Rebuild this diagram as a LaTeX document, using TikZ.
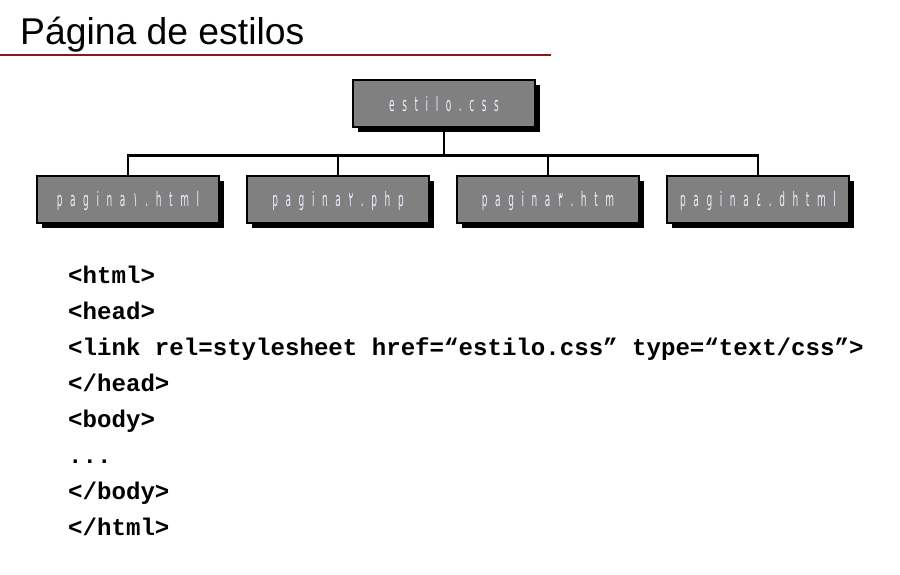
\documentclass[tikz,border=0pt]{standalone}
\usepackage{fontspec}
\setmainfont{Liberation Sans}
\newfontfamily\cajafont{DejaVu Sans}[FakeStretch=0.45,LetterSpace=38]
\newfontfamily\codigofont{Liberation Mono}
\usepackage{xcolor}
\usepackage{tikz}
\usetikzlibrary{shadows}

\definecolor{granate}{RGB}{128,30,30}
\definecolor{letracaja}{RGB}{232,240,255}

\tikzset{
  caja/.style={draw=black, line width=2pt, fill=gray, minimum width=182pt, minimum height=47pt,
    text height=15pt, text depth=0pt, text=letracaja,
    font=\cajafont\fontsize{20}{22}\selectfont,
    drop shadow={shadow xshift=5pt, shadow yshift=-5pt, fill=black, opacity=1}},
  rama/.style={line width=2.5pt},
  codigo/.style={anchor=base west, inner sep=0pt, font=\codigofont\bfseries\fontsize{24.1}{26}\selectfont}
}

\begin{document}
\begin{tikzpicture}[x=1pt, y=-1pt]
  \useasboundingbox (0,0) rectangle (900,575);

  % Título
  \node[anchor=base west, inner sep=0pt, font=\fontsize{37.3}{40}\selectfont] (titulo) at (20,45) {Página de estilos};
  \draw[granate, line width=1.5pt] (0,55) -- (551,55);

  % Hoja de estilos y páginas
  \node[caja] (css) at (444,104) {estilo.css};
  \node[caja] (p1) at (128,199.5) {pagina١.html};
  \node[caja] (p2) at (338,199.5) {pagina٢.php};
  \node[caja] (p3) at (548,199.5) {pagina٣.htm};
  \node[caja] (p4) at (758,199.5) {pagina٤.dhtml};

  % Ramas
  \coordinate (bus) at (444,155.5);
  \draw[rama] (css.south) -- (bus);
  \draw[rama] (p1.north) |- (bus);
  \draw[rama] (p4.north) |- (bus);
  \draw[rama] (p2.north) -- (p2.north |- bus);
  \draw[rama] (p3.north) -- (p3.north |- bus);

  % Código
  \node[codigo] (l1) at (68,283) {<html>};
  \node[codigo] (l2) at (68,319) {<head>};
  \node[codigo] (l3) at (68,355) {<link rel=stylesheet href=“estilo.css” type=“text/css”>};
  \node[codigo] (l4) at (68,391) {</head>};
  \node[codigo] (l5) at (68,427) {<body>};
  \node[codigo] (l6) at (68,463) {...};
  \node[codigo] (l7) at (68,499) {</body>};
  \node[codigo] (l8) at (68,535) {</html>};
\end{tikzpicture}
\end{document}
